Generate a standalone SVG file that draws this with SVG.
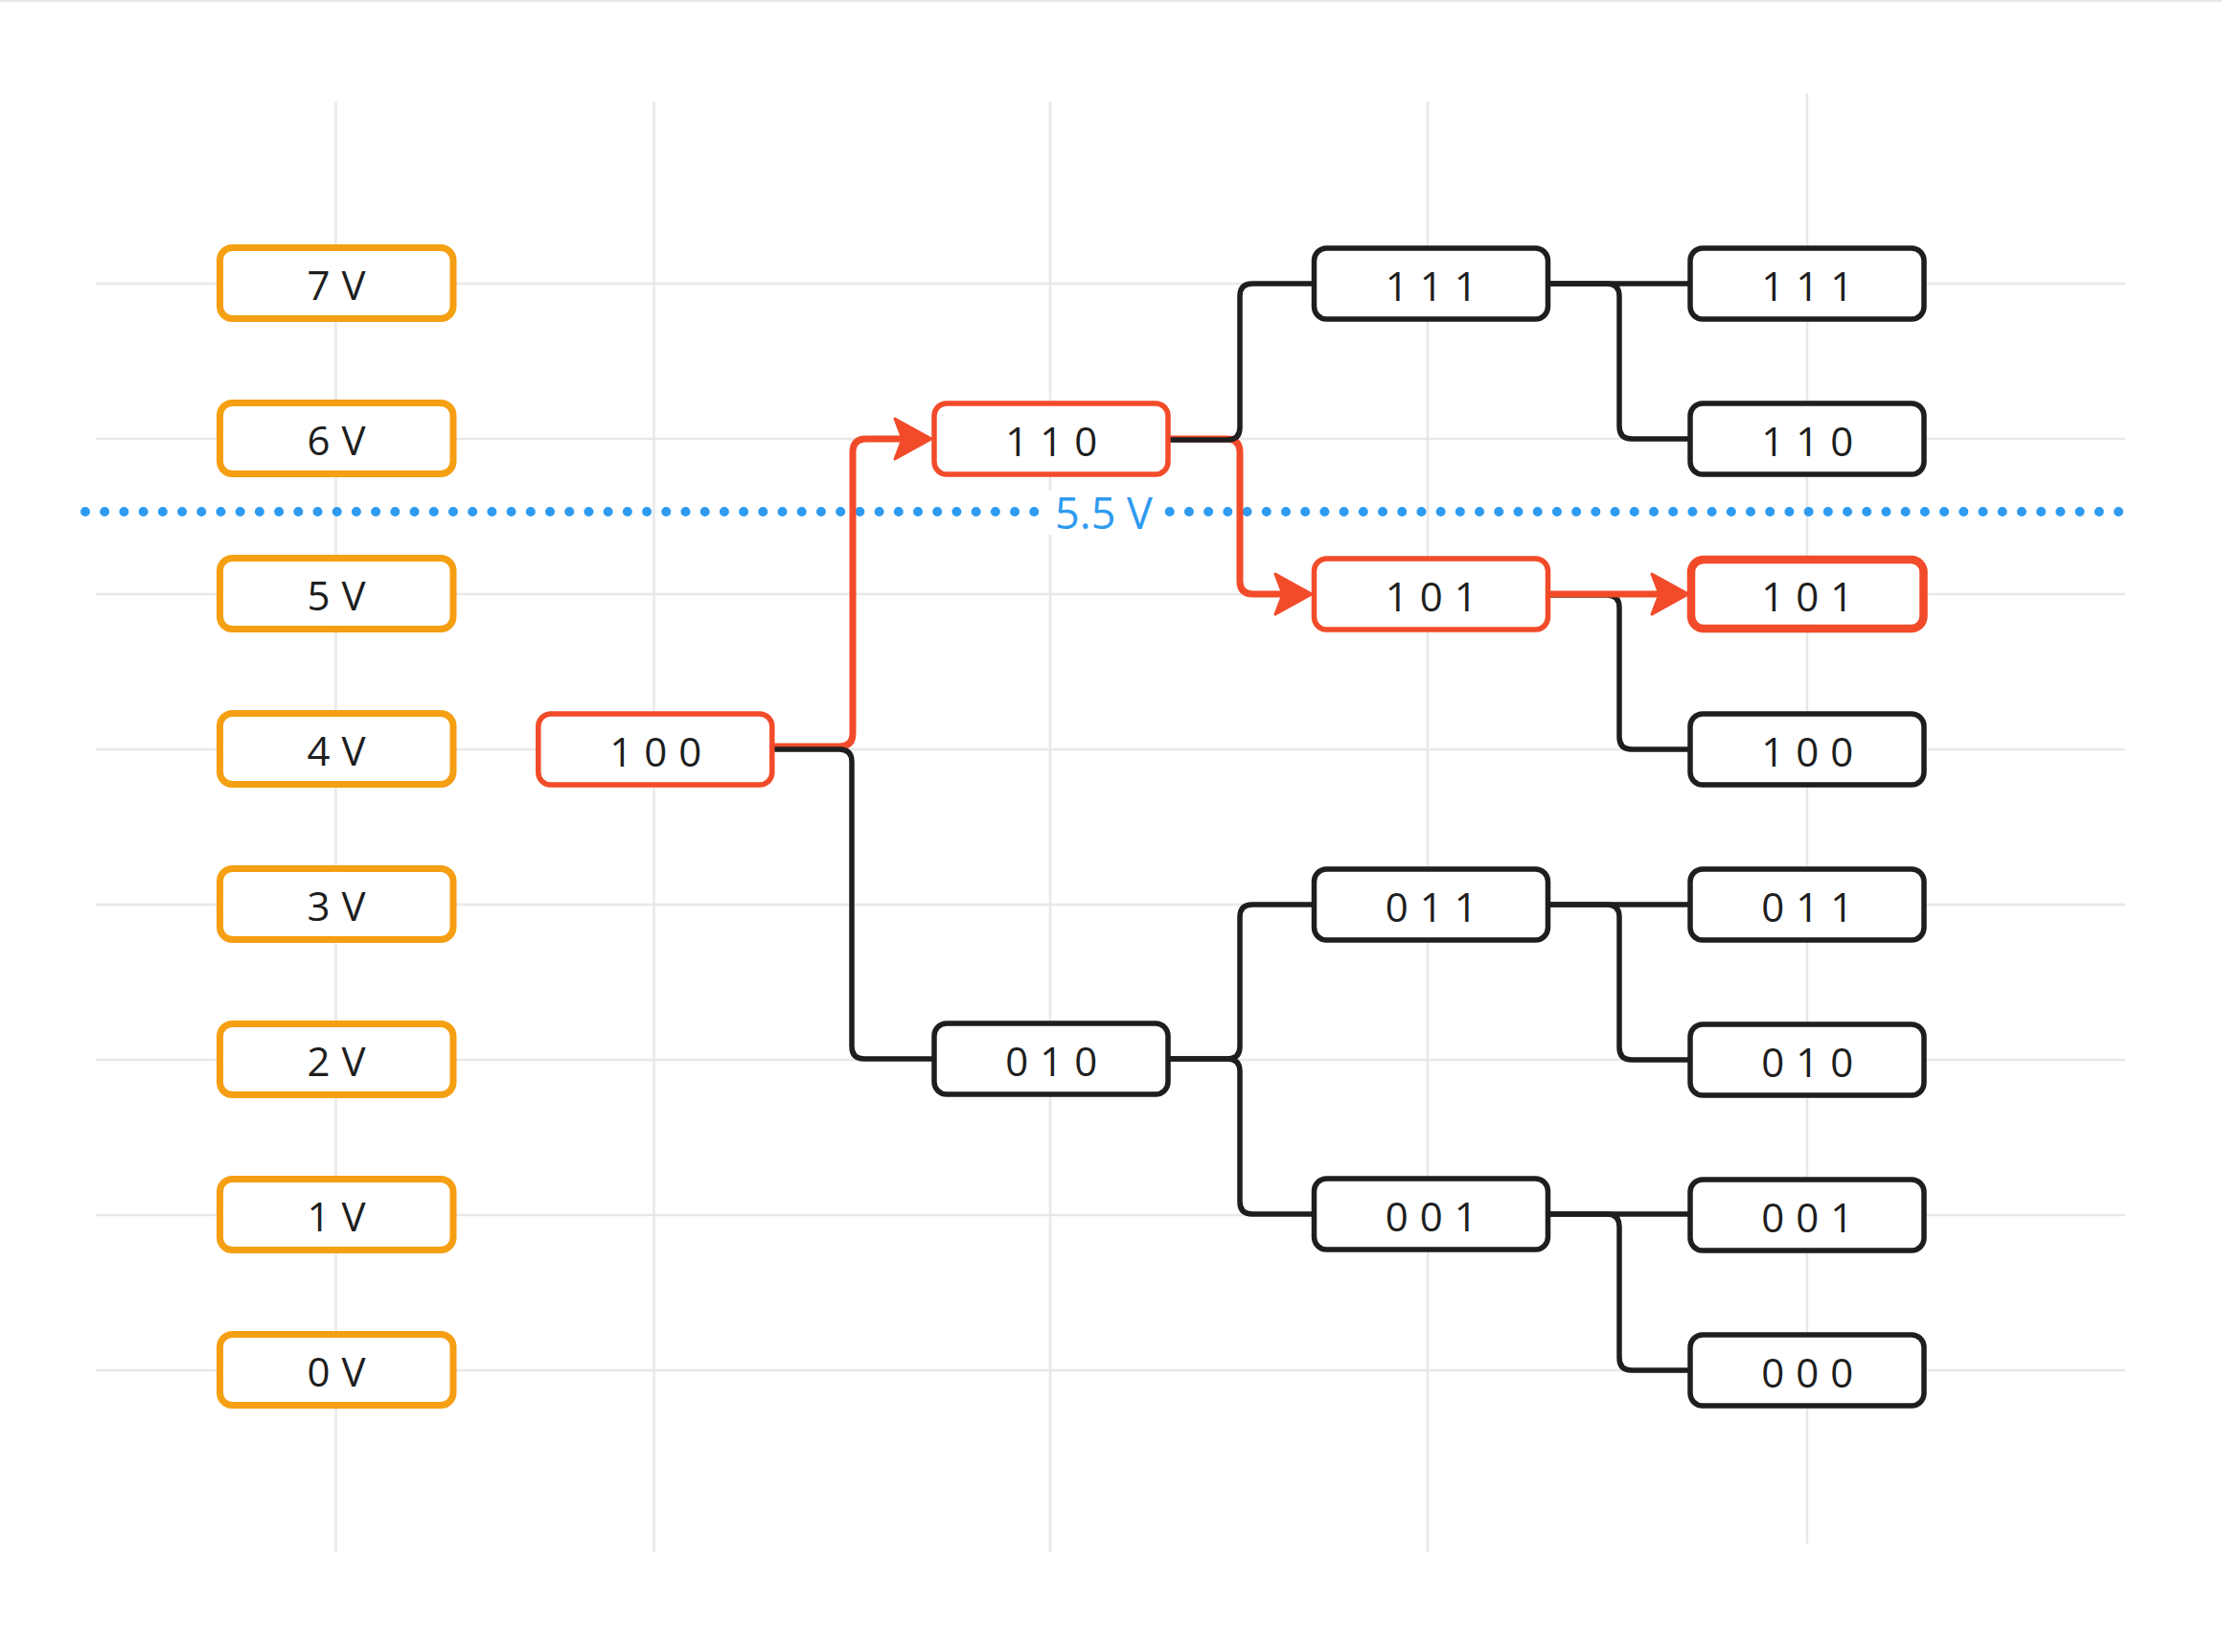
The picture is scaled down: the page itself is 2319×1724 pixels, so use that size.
<svg xmlns="http://www.w3.org/2000/svg" width="2319" height="1724" viewBox="0 0 2319 1724">
  <defs>
    <style>
      .grid { stroke: #e8e8e8; stroke-width: 2.5; fill: none; }
      .volt rect { fill: #ffffff; stroke: #f59f12; stroke-width: 7; }
      .node rect { fill: #ffffff; stroke: #1e1e1e; stroke-width: 5.5; }
      .node.hot rect { stroke: #f24b2a; }
      .node.final rect { stroke: #f24b2a; stroke-width: 8.5; }
      text { font-family: "Open Sans", "Noto Sans", "DejaVu Sans", sans-serif; font-size: 42px; fill: #1e1e1e; text-anchor: middle; letter-spacing: 0.5px; }
      .blk { fill: none; stroke: #1e1e1e; stroke-width: 5.5; stroke-linecap: round; stroke-linejoin: round; }
      .red { fill: none; stroke: #f24b2a; stroke-width: 7; stroke-linejoin: round; }
      .lbl { fill: #2e9bf0; font-size: 45px; letter-spacing: 0; }
    </style>
    <marker id="arrow" viewBox="-3 -26 46 52" markerWidth="46" markerHeight="52" refX="11" refY="0" orient="auto" markerUnits="userSpaceOnUse">
      <polygon points="39,0 1,-21 9,0 1,21" fill="#f24b2a" stroke="#f24b2a" stroke-width="3" stroke-linejoin="round"/>
    </marker>
  </defs>

  <rect x="0" y="0" width="2319" height="1724" fill="#ffffff"/>

  <g id="grid">
    <line class="grid" x1="0" y1="1" x2="2319" y2="1"/>
    <line class="grid" x1="350.5" y1="106" x2="350.5" y2="1620"/>
    <line class="grid" x1="682.5" y1="106" x2="682.5" y2="1620"/>
    <line class="grid" x1="1096" y1="106" x2="1096" y2="1620"/>
    <line class="grid" x1="1490" y1="106" x2="1490" y2="1620"/>
    <line class="grid" x1="1886" y1="97" x2="1886" y2="1611"/>
    <line class="grid" x1="100" y1="296" x2="2218" y2="296"/>
    <line class="grid" x1="100" y1="458" x2="2218" y2="458"/>
    <line class="grid" x1="100" y1="620" x2="2218" y2="620"/>
    <line class="grid" x1="100" y1="782" x2="2218" y2="782"/>
    <line class="grid" x1="100" y1="944" x2="2218" y2="944"/>
    <line class="grid" x1="100" y1="1106" x2="2218" y2="1106"/>
    <line class="grid" x1="100" y1="1268" x2="2218" y2="1268"/>
    <line class="grid" x1="100" y1="1430" x2="2218" y2="1430"/>
  </g>

  <g id="threshold">
    <line x1="89" y1="534" x2="2211" y2="534" stroke="#2e9bf0" stroke-width="10" stroke-linecap="round" stroke-dasharray="0 20.2095"/>
    <rect x="1088" y="512" width="126" height="46" fill="#ffffff"/>
    <text class="lbl" x="1152" y="552">5.5 V</text>
  </g>

  <g id="voltages">
    <g id="v7" class="volt"><rect x="229.5" y="258.5" width="243.5" height="74" rx="13"/><text x="351.3" y="313">7 V</text></g>
    <g id="v6" class="volt"><rect x="229.5" y="420.5" width="243.5" height="74" rx="13"/><text x="351.3" y="475">6 V</text></g>
    <g id="v5" class="volt"><rect x="229.5" y="582.5" width="243.5" height="74" rx="13"/><text x="351.3" y="637">5 V</text></g>
    <g id="v4" class="volt"><rect x="229.5" y="744.5" width="243.5" height="74" rx="13"/><text x="351.3" y="799">4 V</text></g>
    <g id="v3" class="volt"><rect x="229.5" y="906.5" width="243.5" height="74" rx="13"/><text x="351.3" y="961">3 V</text></g>
    <g id="v2" class="volt"><rect x="229.5" y="1068.5" width="243.5" height="74" rx="13"/><text x="351.3" y="1123">2 V</text></g>
    <g id="v1" class="volt"><rect x="229.5" y="1230.5" width="243.5" height="74" rx="13"/><text x="351.3" y="1285">1 V</text></g>
    <g id="v0" class="volt"><rect x="229.5" y="1392.5" width="243.5" height="74" rx="13"/><text x="351.3" y="1447">0 V</text></g>
  </g>

  <g id="connectors">
    <path class="red" d="M 806 779 H 876 Q 890 779 890 765 V 472 Q 890 458 904 458 H 944" marker-end="url(#arrow)"/>
    <path class="blk" d="M 806 782 H 876 Q 889 782 889 795 V 1092 Q 889 1105 902 1105 H 975"/>
    <path class="red" d="M 1219 458 H 1280 Q 1294 458 1294 472 V 606 Q 1294 620 1308 620 H 1341" marker-end="url(#arrow)"/>
    <path class="blk" d="M 1219 459 H 1281 Q 1294 459 1294 446 V 309 Q 1294 296 1307 296 H 1371"/>
    <path class="blk" d="M 1219 1105 H 1281 Q 1294 1105 1294 1092 V 957 Q 1294 944 1307 944 H 1371"/>
    <path class="blk" d="M 1219 1105 H 1281 Q 1294 1105 1294 1118 V 1254 Q 1294 1267 1307 1267 H 1371"/>
    <path class="blk" d="M 1615 296 H 1764"/>
    <path class="blk" d="M 1615 296 H 1677 Q 1690 296 1690 309 V 445 Q 1690 458 1703 458 H 1764"/>
    <path class="blk" d="M 1615 621 H 1677 Q 1690 621 1690 634 V 769 Q 1690 782 1703 782 H 1764"/>
    <path class="red" d="M 1615 620 H 1734" marker-end="url(#arrow)"/>
    <path class="blk" d="M 1615 944 H 1764"/>
    <path class="blk" d="M 1615 944 H 1677 Q 1690 944 1690 957 V 1093 Q 1690 1106 1703 1106 H 1764"/>
    <path class="blk" d="M 1615 1267 H 1764"/>
    <path class="blk" d="M 1615 1267 H 1677 Q 1690 1267 1690 1280 V 1417 Q 1690 1430 1703 1430 H 1764"/>
  </g>

  <g id="n100" class="node hot"><rect x="561.8" y="745" width="244" height="74" rx="13"/><text x="684.5" y="800">1 0 0</text></g>
  <g id="n110" class="node hot"><rect x="975" y="421" width="244" height="74" rx="13"/><text x="1097.5" y="476">1 1 0</text></g>
  <g id="n010" class="node"><rect x="975" y="1068" width="244" height="74" rx="13"/><text x="1097.5" y="1123">0 1 0</text></g>
  <g id="n111a" class="node"><rect x="1371.5" y="259" width="244" height="74" rx="13"/><text x="1494" y="314">1 1 1</text></g>
  <g id="n101a" class="node hot"><rect x="1371.5" y="583" width="244" height="74" rx="13"/><text x="1494" y="638">1 0 1</text></g>
  <g id="n011a" class="node"><rect x="1371.5" y="907" width="244" height="74" rx="13"/><text x="1494" y="962">0 1 1</text></g>
  <g id="n001a" class="node"><rect x="1371.5" y="1230" width="244" height="74" rx="13"/><text x="1494" y="1285">0 0 1</text></g>
  <g id="n111b" class="node"><rect x="1764" y="259" width="244" height="74" rx="13"/><text x="1886.5" y="314">1 1 1</text></g>
  <g id="n110b" class="node"><rect x="1764" y="421" width="244" height="74" rx="13"/><text x="1886.5" y="476">1 1 0</text></g>
  <g id="n101b" class="node final"><rect x="1765" y="584" width="242.5" height="72" rx="13"/><text x="1886.5" y="638">1 0 1</text></g>
  <g id="n100b" class="node"><rect x="1764" y="745" width="244" height="74" rx="13"/><text x="1886.5" y="800">1 0 0</text></g>
  <g id="n011b" class="node"><rect x="1764" y="907" width="244" height="74" rx="13"/><text x="1886.5" y="962">0 1 1</text></g>
  <g id="n010b" class="node"><rect x="1764" y="1069" width="244" height="74" rx="13"/><text x="1886.5" y="1124">0 1 0</text></g>
  <g id="n001b" class="node"><rect x="1764" y="1231" width="244" height="74" rx="13"/><text x="1886.5" y="1286">0 0 1</text></g>
  <g id="n000b" class="node"><rect x="1764" y="1393" width="244" height="74" rx="13"/><text x="1886.5" y="1448">0 0 0</text></g>
</svg>
